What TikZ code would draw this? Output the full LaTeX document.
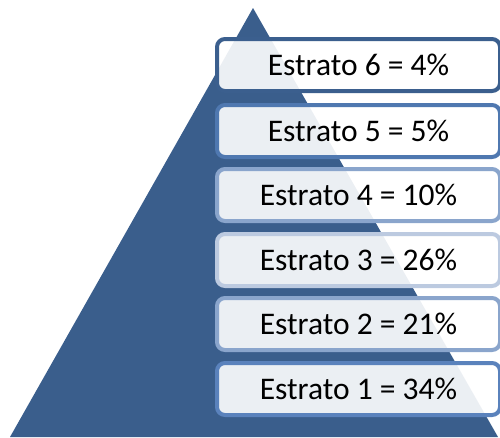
\documentclass[tikz,border=0pt]{standalone}
\usepackage{fontspec}
\setmainfont{Carlito}
\definecolor{tri}{HTML}{3A5E8C}
\definecolor{bsix}{HTML}{3B5F8E}
\definecolor{bfive}{HTML}{4F78B0}
\definecolor{bfour}{HTML}{8AA5CC}
\definecolor{bthree}{HTML}{BCCAE0}
\definecolor{btwo}{HTML}{8AA5CC}
\definecolor{bone}{HTML}{5A82BC}
\tikzset{
  stratum/.style={draw=#1, line width=4pt, rounded corners=8pt, fill=white, fill opacity=0.9, text opacity=1,
    minimum width=283pt, minimum height=52pt, inner sep=0pt, anchor=west,
    font=\fontsize{31.5}{36}\selectfont, text=black},
}
\begin{document}
\begin{tikzpicture}[x=1pt,y=-1pt]
\useasboundingbox (0,0) rectangle (500,437);
\fill[tri] (10,437) coordinate (bl) -- (253,8) coordinate (apex) -- (498,437) coordinate (br) -- cycle;
\node[stratum=bsix]   (s6) at (215,65)  {Estrato 6 = 4\%};
\node[stratum=bfive]  (s5) at (215,131) {Estrato 5 = 5\%};
\node[stratum=bfour]  (s4) at (215,195) {Estrato 4 = 10\%};
\node[stratum=bthree] (s3) at (215,260) {Estrato 3 = 26\%};
\node[stratum=btwo]   (s2) at (215,324) {Estrato 2 = 21\%};
\node[stratum=bone]   (s1) at (215,389) {Estrato 1 = 34\%};
\end{tikzpicture}
\end{document}
